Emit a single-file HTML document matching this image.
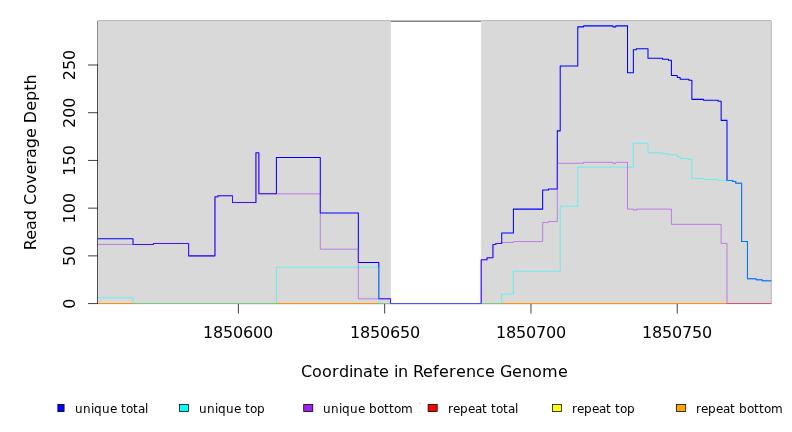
<!DOCTYPE html>
<html><head><meta charset="utf-8"><title>Read Coverage Depth</title>
<style>
html,body{margin:0;padding:0;background:#fff;}
svg{display:block;}
text{font-family:"DejaVu Sans","Liberation Sans",sans-serif;fill:#000;}
</style></head><body>
<svg width="792" height="432" viewBox="0 0 792 432">
<rect x="0" y="0" width="792" height="432" fill="#fff"/>
<clipPath id="pc"><rect x="97.92" y="21.12" width="673.96" height="283.45"/></clipPath>
<rect x="97.92" y="21.12" width="672.96" height="282.45" fill="none" stroke="#000" stroke-width="0.75"/>
<g stroke="#000" stroke-width="0.75" fill="none" stroke-linecap="round">
<path d="M238.36,303.57H677.25"/>
<path d="M238.36,303.57V313.17"/>
<path d="M384.66,303.57V313.17"/>
<path d="M530.96,303.57V313.17"/>
<path d="M677.25,303.57V313.17"/>
<path d="M97.92,303.57V65.01"/>
<path d="M97.92,303.57H88.32"/>
<path d="M97.92,255.86H88.32"/>
<path d="M97.92,208.15H88.32"/>
<path d="M97.92,160.44H88.32"/>
<path d="M97.92,112.73H88.32"/>
<path d="M97.92,65.01H88.32"/>
</g>
<g clip-path="url(#pc)" fill="#d9d9d9" stroke="#d9d9d9" stroke-width="0.75">
<rect x="97.92" y="21.12" width="292.59" height="282.45"/>
<rect x="481.21" y="21.12" width="289.67" height="282.45"/>
</g>
<text x="203 213 223 233 243 253 263" y="337.8" font-size="16">1850600</text>
<text x="350 360 370 380 390 400 410" y="337.8" font-size="16">1850650</text>
<text x="496 506 516 526 536 546 556" y="337.8" font-size="16">1850700</text>
<text x="642 652 662 672 682 692 702" y="337.8" font-size="16">1850750</text>
<text transform="translate(74.7,303.57) rotate(-90)" font-size="16" text-anchor="middle">0</text>
<text transform="translate(74.7,255.86) rotate(-90)" font-size="16" text-anchor="middle">50</text>
<text transform="translate(74.7,208.15) rotate(-90)" font-size="16" text-anchor="middle">100</text>
<text transform="translate(74.7,160.44) rotate(-90)" font-size="16" text-anchor="middle">150</text>
<text transform="translate(74.7,112.73) rotate(-90)" font-size="16" text-anchor="middle">200</text>
<text transform="translate(74.7,65.01) rotate(-90)" font-size="16" text-anchor="middle">250</text>
<text x="301 312 322 332 339 349 353 363 373 379 389 394 398 408 413 423 433 439 449 456 466 476 485 495 500 512 522 532 542 558" y="376.5" font-size="16">Coordinate in Reference Genome</text>
<text transform="translate(36,162.34) rotate(-90)" font-size="16" text-anchor="middle">Read Coverage Depth</text>
<g clip-path="url(#pc)" fill="none" stroke-linejoin="round" stroke-linecap="round">
<path d="M97.92,303.57H770.88" stroke="#ff0000" stroke-width="1.05"/>
<rect x="97.92" y="304" width="673.46" height="1" fill="#ff0000" fill-opacity="0.1"/>
<path d="M97.92,303.5H770.88" stroke="#ffff00" stroke-width="0.5"/>
<path d="M97.92,303.5H770.88" stroke="#ffa500" stroke-width="0.5"/>
<path d="M97.92,238.68H133.03V244.41H153.51V243.45H188.62V255.86H214.96V196.7H217.88V195.74H232.51V202.42H255.92V152.8H258.85V193.83H276.4V157.57H320.29V212.92H358.33V262.54H378.81V298.8H390.51V303.57H481.21V259.68H487.07V257.77H492.92V244.41H495.84V243.45H501.7V232.96H513.4V209.1H542.66V190.02H548.51V189.06H557.29V130.86H560.21V65.97H577.77V26.85H583.62V25.89H612.88V26.85H615.81V25.89H627.51V72.65H633.36V49.75H636.29V48.79H647.99V58.33H662.62V59.29H668.47V60.24H671.4V75.51H677.25V77.42H680.18V79.33H688.95V80.28H691.88V99.37H703.58V100.32H718.21V101.27H721.14V120.36H726.99V180.48H732.84V181.43H735.77V183.34H741.62V241.55H747.47V278.76H756.25V279.71H762.1V280.67H770.88" stroke="#0000ff" stroke-width="1.05"/>
<rect x="390.51" y="304" width="90.7" height="1" fill="#0000ff" fill-opacity="0.08"/>
<path d="M97.92,297.84H133.03V303.5H276.4V267.31H378.81V303.5H501.7V294.03H513.4V271.13H560.21V206.24H577.77V167.12H633.36V143.26H647.99V152.8H662.62V153.76H668.47V154.71H677.25V156.62H680.18V158.53H688.95V159.48H691.88V178.57H703.58V179.52H718.21V180.48H732.84V181.43H735.77V183.34H741.62V241.55H747.47V278.76H756.25V279.71H762.1V280.67H770.88" stroke="#00ffff" stroke-width="0.5"/>
<path d="M97.92,244.41H153.51V243.45H188.62V255.86H214.96V196.7H217.88V195.74H232.51V202.42H255.92V152.8H258.85V193.83H320.29V249.18H358.33V298.8H390.51V303.5H481.21V259.68H487.07V257.77H492.92V244.41H495.84V243.45H501.7V242.5H513.4V241.55H542.66V222.46H548.51V221.51H557.29V163.3H583.62V162.34H612.88V163.3H615.81V162.34H627.51V209.1H633.36V210.06H636.29V209.1H671.4V224.37H721.14V243.45H726.99V303.5H770.88" stroke="#a020f0" stroke-width="0.5"/>
</g>
<clipPath id="lc"><rect x="57.35" y="380" width="740" height="52"/></clipPath>
<g clip-path="url(#lc)">
<rect x="55.0" y="404.4" width="9.1" height="7.2" fill="#0000ff" stroke="#000" stroke-width="0.75"/>
<rect x="179.4" y="404.4" width="9.1" height="7.2" fill="#00ffff" stroke="#000" stroke-width="0.75"/>
<rect x="303.7" y="404.4" width="9.1" height="7.2" fill="#a020f0" stroke="#000" stroke-width="0.75"/>
<rect x="428.1" y="404.4" width="9.1" height="7.2" fill="#ff0000" stroke="#000" stroke-width="0.75"/>
<rect x="552.5" y="404.4" width="9.1" height="7.2" fill="#ffff00" stroke="#000" stroke-width="0.75"/>
<rect x="676.6" y="404.4" width="9.1" height="7.2" fill="#ffa500" stroke="#000" stroke-width="0.75"/>
</g>
<text x="75 83 91 94 102 110 117 121 126 133 138 145" y="412.5" font-size="12">unique total</text>
<text x="199 207 215 218 226 234 241 245 250 257" y="412.5" font-size="12">unique top</text>
<text x="323 331 339 342 350 358 365 369 377 384 389 394 401" y="412.5" font-size="12">unique bottom</text>
<text x="448 453 460 468 475 482 487 491 496 503 508 515" y="412.5" font-size="12">repeat total</text>
<text x="572 577 584 592 599 606 611 615 620 627" y="412.5" font-size="12">repeat top</text>
<text x="696 701 708 716 723 730 735 739 747 754 759 764 771" y="412.5" font-size="12">repeat bottom</text>
<rect x="419.3" y="402.9" width="1.1" height="0.8" fill="#aaa"/>
</svg></body></html>
